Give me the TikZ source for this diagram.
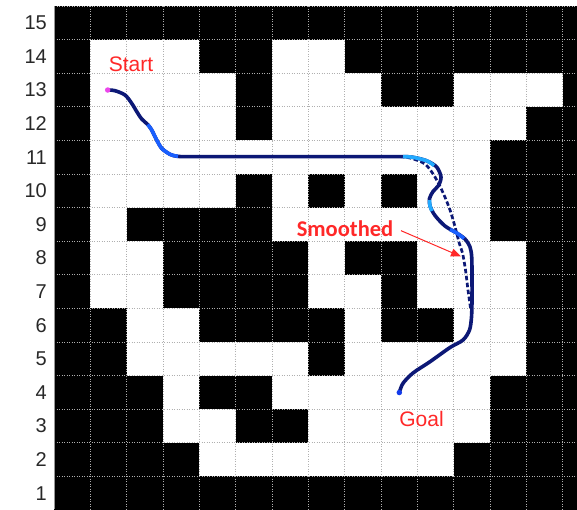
\documentclass[tikz,border=0pt]{standalone}
\usepackage{fontspec}
\setmainfont{Liberation Sans}
\newfontfamily\smfont{Carlito}
\usetikzlibrary{arrows.meta}
\definecolor{navy}{RGB}{12,24,118}
\definecolor{lblue}{RGB}{25,95,255}
\definecolor{cyanb}{RGB}{35,170,255}
\definecolor{lred}{RGB}{255,40,40}
\definecolor{gridc}{RGB}{175,175,175}
\definecolor{axisc}{RGB}{150,150,150}
\definecolor{numc}{RGB}{40,40,40}
\definecolor{magdot}{RGB}{235,70,235}
\definecolor{bluedot}{RGB}{20,60,235}
\def\cw{36.33}
\def\ch{33.6}
\tikzset{
  gridline/.style={draw=gridc, line width=0.7pt, dash pattern=on 1pt off 1.5pt},
  numlabel/.style={font=\fontsize{20}{24}\selectfont, text=numc, inner sep=0pt, anchor=east},
  lab/.style={font=\fontsize{21}{25}\selectfont, text=lred, inner sep=0pt, anchor=base},
  smlab/.style={font=\smfont\bfseries\fontsize{22.5}{26}\selectfont, text=lred, inner sep=3pt, anchor=base},
  redarrow/.style={draw=lred, line width=1pt, shorten <=5pt, -{Triangle[length=10pt,width=8pt]}},
  pathline/.style={draw=navy, line width=3.6pt, line cap=round, line join=round},
  dashline/.style={draw=navy, line width=2.7pt, dash pattern=on 4.5pt off 2.5pt},
  overlay/.style={line width=3.6pt, line cap=butt},
  dot/.style={circle, inner sep=0pt, minimum size=5.5pt}
}
\begin{document}
\begin{tikzpicture}[x=1pt,y=-1pt]
\useasboundingbox (0,0) rectangle (577,509);
\begin{scope}
\clip (0,0) rectangle (577,509);
\fill[white] (54,6) rectangle ({54+15*\cw},{6+15*\ch});
\foreach \r/\cells in {
  15/{1,1,1,1,1,1,1,1,1,1,1,1,1,1,1},
  14/{1,0,0,0,1,1,0,0,1,1,1,1,1,1,1},
  13/{1,0,0,0,0,1,0,0,0,1,1,0,0,0,1},
  12/{1,0,0,0,0,1,0,0,0,0,0,0,0,1,1},
  11/{1,0,0,0,0,0,0,0,0,0,0,0,1,1,1},
  10/{1,0,0,0,0,1,0,1,0,1,0,0,1,1,1},
  9/{1,0,1,1,1,1,0,0,0,0,0,0,1,1,1},
  8/{1,0,0,1,1,1,1,0,1,1,0,0,0,1,1},
  7/{1,0,0,1,1,1,1,0,0,1,0,0,0,1,1},
  6/{1,1,0,0,1,1,1,1,0,1,1,0,0,1,1},
  5/{1,1,0,0,0,0,0,1,0,0,0,0,0,1,1},
  4/{1,1,1,0,1,1,0,0,0,0,0,0,1,1,1},
  3/{1,1,1,0,0,1,1,0,0,0,0,0,1,1,1},
  2/{1,1,1,1,0,0,0,0,0,0,0,1,1,1,1},
  1/{1,1,1,1,1,1,1,1,1,1,1,1,1,1,1}}{
  \foreach \v [count=\c] in \cells {
    \ifnum\v=1
      \fill[black] ({54+(\c-1)*\cw},{6+(15-\r)*\ch}) rectangle ++(\cw,\ch);
    \fi
  }
}
\foreach \k in {1,...,15}
  \draw[gridline] ({54+\k*\cw},6) -- ({54+\k*\cw},520);
\foreach \k in {0,...,15}
  \draw[gridline] (54,{6+\k*\ch}) -- (600,{6+\k*\ch});
\end{scope}
\draw[axisc, line width=0.8pt] (54,6) -- (54,509);

% row labels
\foreach \r in {1,...,15}
  \node[numlabel] (l\r) at (47,{6+(15.5-\r)*\ch}) {\r};

% smoothed (dashed) path
\draw[dashline] plot[smooth] coordinates {(400,156.6) (410,158) (425,164) (435,177) (443.3,193.3) (450,210) (455,226.7) (459.3,243.3) (462.5,253) (465.5,270) (468,290) (470.5,308)};

% planned path
\draw[pathline] plot[smooth] coordinates {(107.7,90) (115,90.7) (125,95) (131.7,103.3) (136.7,111.5) (141.7,119) (147.7,124.5) (151.7,130) (156.7,140) (161.7,148.3) (170,154.3) (178,156.4) (195,156.6) (250,156.6) (300,156.6) (350,156.6) (400,156.6) (413,157.3) (426.7,160.8) (436.7,167) (441,177) (438.5,185.5) (433,191.5) (429.5,198.5) (430,206) (435,215.5) (445,226) (456.7,233) (465,239) (470,247) (471.7,257) (472,275) (472,300) (471.5,317) (469.5,330) (463,340) (450,347.5) (430,361.7) (413,373) (403,383.3) (399.3,392.5)};
\draw[overlay, lblue] plot[smooth] coordinates {(147.7,124.5) (151.7,130) (156.7,140) (161.7,148.3) (170,154.3) (178,156.4)};
\draw[overlay, cyanb] plot[smooth] coordinates {(403,156.6) (413,157.3) (426.7,160.8) (434,165.5)};
\draw[overlay, cyanb] plot[smooth] coordinates {(429.6,200) (430,206) (432,211)};
\draw[overlay, lblue] plot[smooth] coordinates {(450,229.5) (456.7,233) (464,238.5)};

\node[dot, fill=magdot] (start) at (107.7,90) {};
\node[dot, fill=bluedot] (goal) at (399.3,392.5) {};

% labels
\node[lab] (startlab) at (131,71.7) {Start};
\node[lab] (goallab) at (421.5,426.7) {Goal};
\node[smlab] (smooth) at (345,236.5) {Smoothed};
\coordinate (tip) at (461,256.5);
\draw[redarrow] (smooth.east) -- (tip);
\end{tikzpicture}
\end{document}
